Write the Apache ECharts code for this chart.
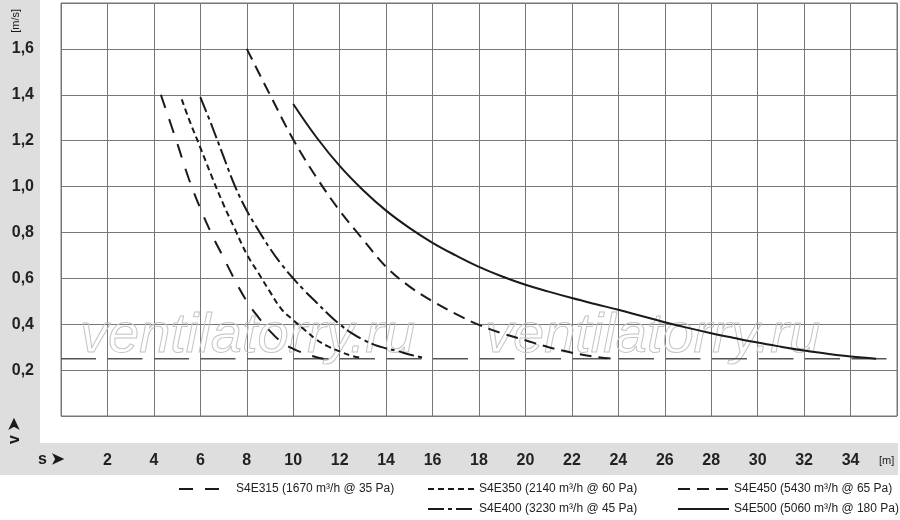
<!DOCTYPE html>
<html>
<head>
<meta charset="utf-8">
<script src="https://cdn.jsdelivr.net/npm/echarts@6/dist/echarts.min.js"></script>
<style>
html,body{margin:0;padding:0;background:#fff;}
#main{width:900px;height:520px;}
</style>
</head>
<body>
<div id="main"></div>
<script>
// distance s [m] / velocity v [m/s]
var s4e315 = [[4.3,1.40],[5.0,1.19],[5.5,1.035],[6.0,0.905],[6.5,0.79],[7.0,0.69],[7.5,0.59],[8.0,0.50],
    [8.5,0.43],[9.0,0.37],[9.5,0.322],[10.0,0.293],[10.5,0.272],[11.0,0.256],[11.3,0.25]];
var s4e350 = [[5.2,1.38],[5.5,1.296],[6.0,1.17],[6.5,1.042],[7.0,0.921],[7.5,0.812],[8.0,0.705],[8.5,0.623],
    [9.0,0.541],[9.5,0.465],[10.0,0.418],[10.5,0.375],[11.0,0.333],[11.5,0.303],[12.0,0.281],[12.5,0.263],[13.0,0.252]];
var s4e400 = [[6.0,1.39],[6.5,1.264],[7.0,1.13],[7.5,1.0],[8.0,0.895],[8.5,0.81],[9.0,0.73],[9.5,0.66],
    [10.0,0.60],[10.5,0.545],[11.0,0.495],[11.5,0.445],[12.0,0.40],[12.5,0.362],[13.0,0.333],[13.5,0.31],
    [14.0,0.295],[14.5,0.283],[15.0,0.268],[15.7,0.252]];
var s4e450 = [[8,1.60],[9,1.40],[10,1.205],[11,1.04],[12,0.895],[13,0.77],[14,0.65],[15,0.565],[16,0.50],
    [17,0.445],[18,0.397],[19,0.36],[20,0.33],[21,0.30],[22,0.276],[23,0.258],[23.7,0.25]];
var s4e500 = [[10,1.36],[11,1.215],[12,1.09],[13,0.985],[14,0.895],[15,0.82],[16,0.755],[17,0.70],[18,0.65],
    [19,0.608],[20,0.572],[21,0.542],[22,0.514],[23,0.488],[24,0.463],[25,0.436],[26,0.409],[27,0.384],
    [28,0.361],[29,0.34],[30,0.32],[31,0.302],[32,0.285],[33,0.271],[34,0.259],[35.1,0.25]];
var limitLine = [[0,0.25],[36,0.25]];

var names = ["S4E315 (1670 m³/h @ 35 Pa)","S4E350 (2140 m³/h @ 60 Pa)","S4E450 (5430 m³/h @ 65 Pa)",
    "S4E400 (3230 m³/h @ 45 Pa)","S4E500 (5060 m³/h @ 180 Pa)"];

var font = '"Liberation Sans",Arial,sans-serif';
var ink = '#1a1a1a';

var chart = echarts.init(document.getElementById('main'));

function curve(name, data, dash) {
    return {
        name: name,
        type: 'line',
        data: data,
        smooth: 0.4,
        symbol: 'none',
        z: 3,
        itemStyle: {color: 'rgba(0,0,0,0)'},
        lineStyle: {color: ink, width: 2, type: dash}
    };
}

function legendAt(name, left, top, w, padLeft) {
    return {
        data: [name],
        left: left,
        top: top,
        padding: 0,
        itemWidth: w,
        itemHeight: 14,
        selectedMode: false,
        textStyle: {fontFamily: font, fontSize: 12, color: '#222', padding: [0,0,0,padLeft || 0]}
    };
}

var option = {
    animation: false,
    backgroundColor: '#fff',
    grid: {left: 61, right: 3, top: 3, bottom: 104, show: true, borderColor: '#777', borderWidth: 1},
    xAxis: {
        type: 'value', min: 0, max: 36, interval: 2,
        axisLine: {show: false}, axisTick: {show: false},
        splitLine: {lineStyle: {color: '#777', width: 1}},
        axisLabel: {
            margin: 37, fontFamily: font, fontSize: 16, fontWeight: 'bold', color: '#222',
            formatter: function (v) { return (v === 0 || v === 36) ? '' : String(v); }
        }
    },
    yAxis: {
        type: 'value', min: 0, max: 1.8, interval: 0.2,
        axisLine: {show: false}, axisTick: {show: false},
        splitLine: {lineStyle: {color: '#777', width: 1}},
        axisLabel: {
            margin: 27, fontFamily: font, fontSize: 16, fontWeight: 'bold', color: '#222',
            formatter: function (v) {
                if (v < 0.01 || v > 1.79) return '';
                return v.toFixed(1).replace('.', ',');
            }
        }
    },
    legend: [
        legendAt(names[0], 178, 483, 44, 8),
        legendAt(names[1], 427, 483, 46),
        legendAt(names[2], 677, 483, 51),
        legendAt(names[3], 427, 503, 46),
        legendAt(names[4], 677, 503, 51)
    ],
    graphic: [
        {type: 'rect', z: -1, shape: {x: 0, y: 0, width: 40, height: 443}, style: {fill: '#dedede'}},
        {type: 'rect', z: -1, shape: {x: 0, y: 443, width: 898, height: 32}, style: {fill: '#dedede'}},
        {type: 'text', left: 10, top: 9, rotation: Math.PI / 2,
            style: {text: '[m/s]', font: '11px ' + font, fill: ink}},
        {type: 'text', x: 7, y: 444, rotation: Math.PI / 2,
            style: {text: 'v ➤', font: 'bold 16px ' + font, fill: ink}},
        {type: 'text', x: 38, y: 452,
            style: {text: 's ➤', font: 'bold 16px ' + font, fill: ink}},
        {type: 'text', x: 879, y: 455,
            style: {text: '[m]', font: '11px ' + font, fill: ink}},
        {type: 'text', x: 80, y: 308, z: 1,
            style: {text: 'ventilatorry.ru', font: 'italic 56px ' + font, fill: 'rgba(255,255,255,0)', stroke: '#c4c4c4', lineWidth: 1}},
        {type: 'text', x: 485, y: 308, z: 1,
            style: {text: 'ventilatorry.ru', font: 'italic 56px ' + font, fill: 'rgba(255,255,255,0)', stroke: '#c4c4c4', lineWidth: 1}}
    ],
    series: [
        {
            name: 'limit', type: 'line', data: limitLine, symbol: 'none', silent: true, z: 2,
            lineStyle: {color: '#555', width: 1.5, type: [35, 11.5]}
        },
        curve(names[0], s4e315, [14, 12]),
        curve(names[1], s4e350, [6, 4]),
        curve(names[3], s4e400, [16, 4, 4, 4]),
        curve(names[2], s4e450, [12, 7]),
        curve(names[4], s4e500, 'solid')
    ]
};
chart.setOption(option);
</script>
</body>
</html>
